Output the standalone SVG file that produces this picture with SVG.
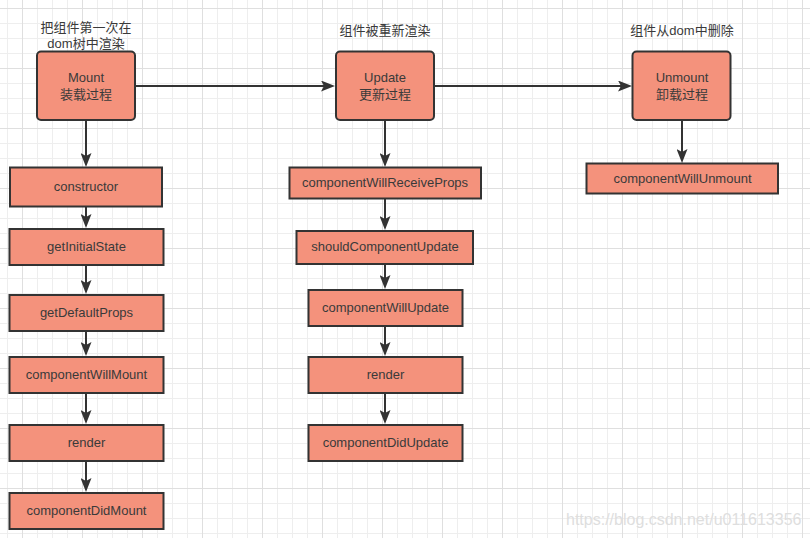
<svg xmlns="http://www.w3.org/2000/svg" width="810" height="538" viewBox="0 0 810 538">
  <style>
    text { font-family: "Liberation Sans", "Noto Sans CJK SC", sans-serif; font-size: 13px; fill: #3a3a3a; text-anchor: middle; }
    .box { fill: #F4927C; stroke: #333333; stroke-width: 2; }
    .conn { fill: none; stroke: #333333; stroke-width: 2; }
    .wm { font-size: 16px; fill: #dedede; text-anchor: start; }
  </style>
  <defs>
    <pattern id="grid" x="22" y="8" width="60" height="60" patternUnits="userSpaceOnUse">
      <rect x="15" y="0" width="1" height="60" fill="#eeeeee"/>
      <rect x="30" y="0" width="1" height="60" fill="#eeeeee"/>
      <rect x="45" y="0" width="1" height="60" fill="#eeeeee"/>
      <rect x="0" y="15" width="60" height="1" fill="#eeeeee"/>
      <rect x="0" y="30" width="60" height="1" fill="#eeeeee"/>
      <rect x="0" y="45" width="60" height="1" fill="#eeeeee"/>
      <rect x="0" y="0" width="1" height="60" fill="#dfdfdf"/>
      <rect x="0" y="0" width="60" height="1" fill="#dfdfdf"/>
    </pattern>
    <marker id="arrow" viewBox="0 0 14 11" refX="6" refY="5.5" markerWidth="14" markerHeight="11" markerUnits="userSpaceOnUse" orient="auto">
      <path d="M0,0 L14,5.5 L0,11 L3,5.5 Z" fill="#333333"/>
    </marker>
  </defs>

  <rect x="0" y="0" width="810" height="538" fill="#ffffff"/>
  <rect x="0" y="0" width="810" height="538" fill="url(#grid)"/>

  <!-- free labels -->
  <text x="86" y="31.5">把组件第一次在</text>
  <text x="86" y="47.5">dom树中渲染</text>
  <text x="385" y="34.5">组件被重新渲染</text>
  <text x="682" y="34.5">组件从dom中删除</text>

  <!-- connectors -->
  <g id="connectors">
    <path class="conn" d="M136,86 H327" marker-end="url(#arrow)"/>
    <path class="conn" d="M435,86 H624" marker-end="url(#arrow)"/>
    <path class="conn" d="M86,121 V159" marker-end="url(#arrow)"/>
    <path class="conn" d="M86,207 V220" marker-end="url(#arrow)"/>
    <path class="conn" d="M86,266 V286" marker-end="url(#arrow)"/>
    <path class="conn" d="M86,332 V348" marker-end="url(#arrow)"/>
    <path class="conn" d="M86,394 V416" marker-end="url(#arrow)"/>
    <path class="conn" d="M86,462 V484" marker-end="url(#arrow)"/>
    <path class="conn" d="M385,121 V159" marker-end="url(#arrow)"/>
    <path class="conn" d="M385,199 V222" marker-end="url(#arrow)"/>
    <path class="conn" d="M385,265 V281" marker-end="url(#arrow)"/>
    <path class="conn" d="M385,327 V348" marker-end="url(#arrow)"/>
    <path class="conn" d="M385,394 V416" marker-end="url(#arrow)"/>
    <path class="conn" d="M682,121 V155" marker-end="url(#arrow)"/>
  </g>

  <!-- Mount column -->
  <g id="mount">
    <rect class="box" x="37" y="51.5" width="98" height="68.5" rx="4"/>
    <text x="86" y="81.5">Mount</text>
    <text x="86" y="98.5">装载过程</text>
  </g>
  <g id="constructor">
    <rect class="box" x="10" y="167.5" width="152" height="39"/>
    <text x="86" y="190.5">constructor</text>
  </g>
  <g id="getInitialState">
    <rect class="box" x="9.5" y="229" width="154" height="36"/>
    <text x="86.5" y="250.5">getInitialState</text>
  </g>
  <g id="getDefaultProps">
    <rect class="box" x="9.5" y="295" width="154" height="36"/>
    <text x="86.5" y="316.5">getDefaultProps</text>
  </g>
  <g id="componentWillMount">
    <rect class="box" x="9.5" y="357" width="154" height="36"/>
    <text x="86.5" y="378.5">componentWillMount</text>
  </g>
  <g id="renderMount">
    <rect class="box" x="9.5" y="425" width="154" height="36"/>
    <text x="86.5" y="446.5">render</text>
  </g>
  <g id="componentDidMount">
    <rect class="box" x="9.5" y="493" width="154" height="36"/>
    <text x="86.5" y="514.5">componentDidMount</text>
  </g>

  <!-- Update column -->
  <g id="update">
    <rect class="box" x="336" y="51.5" width="98" height="68.5" rx="4"/>
    <text x="385" y="81.5">Update</text>
    <text x="385" y="98.5">更新过程</text>
  </g>
  <g id="componentWillReceiveProps">
    <rect class="box" x="289.5" y="167.5" width="191.5" height="31"/>
    <text x="385" y="186.5">componentWillReceiveProps</text>
  </g>
  <g id="shouldComponentUpdate">
    <rect class="box" x="296.5" y="231" width="176.5" height="33"/>
    <text x="385" y="251">shouldComponentUpdate</text>
  </g>
  <g id="componentWillUpdate">
    <rect class="box" x="308.5" y="290" width="154" height="36"/>
    <text x="385.5" y="311.5">componentWillUpdate</text>
  </g>
  <g id="renderUpdate">
    <rect class="box" x="308.5" y="357" width="154" height="36"/>
    <text x="385.5" y="378.5">render</text>
  </g>
  <g id="componentDidUpdate">
    <rect class="box" x="308.5" y="425" width="154" height="36"/>
    <text x="385.5" y="446.5">componentDidUpdate</text>
  </g>

  <!-- Unmount column -->
  <g id="unmount">
    <rect class="box" x="632.5" y="51.5" width="98" height="68.5" rx="4"/>
    <text x="682" y="81.5">Unmount</text>
    <text x="682" y="98.5">卸载过程</text>
  </g>
  <g id="componentWillUnmount">
    <rect class="box" x="586.5" y="163.5" width="191.5" height="30"/>
    <text x="682.5" y="182.5">componentWillUnmount</text>
  </g>

  <text class="wm" x="566" y="524.5">https://blog.csdn.net/u011613356</text>
</svg>
